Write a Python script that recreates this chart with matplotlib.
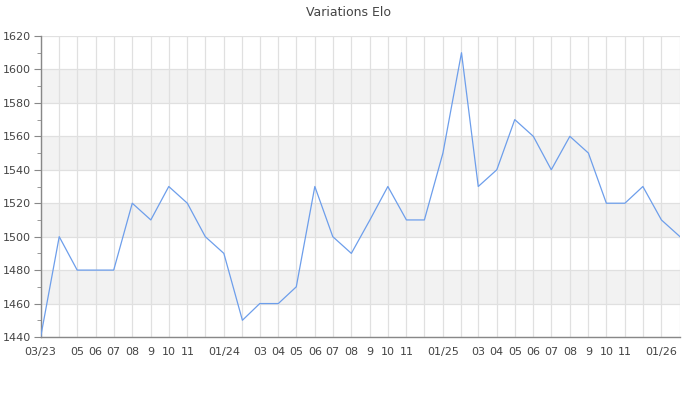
import datetime as dt
import matplotlib
matplotlib.use('Agg')
import matplotlib.pyplot as plt
import matplotlib.dates as mdates

# monthly Elo values, 03/2023 .. 02/2026
months = [dt.date(2023 + (2 + i) // 12, (2 + i) % 12 + 1, 1) for i in range(36)]
elo = [1440, 1500, 1480, 1480, 1480, 1520, 1510, 1530, 1520, 1500,
       1490, 1450, 1460, 1460, 1470, 1530, 1500, 1490, 1510, 1530,
       1510, 1510, 1550, 1610, 1530, 1540, 1570, 1560, 1540, 1560,
       1550, 1520, 1520, 1530, 1510, 1500]
xlabels = ['03/23', '', '05', '06', '07', '08', '9', '10', '11', '',
           '01/24', '', '03', '04', '05', '06', '07', '08', '9', '10', '11', '',
           '01/25', '', '03', '04', '05', '06', '07', '08', '9', '10', '11', '',
           '01/26', '']
yticks = list(range(1440, 1621, 20))

fig = plt.figure(figsize=(7, 4), dpi=100)
ax = fig.add_axes([0.0581, 0.1575, 0.9133, 0.7525])

# alternating horizontal bands
for i, y0 in enumerate(yticks[:-1]):
    if i % 2 == 1:
        ax.axhspan(y0, y0 + 20, color='#f2f2f2', zorder=0, lw=0)

ax.plot(months, elo, color='#6d9eeb', lw=0.9, zorder=3)

ax.set_xlim(months[0], months[-1])
ax.set_ylim(1440, 1620)
ax.set_xticks([mdates.date2num(m) for m in months])
ax.set_xticklabels(xlabels)
ax.set_yticks(yticks)
ax.set_yticks(range(1450, 1620, 20), minor=True)
ax.grid(True, which='major', color='#e0e0e0', lw=0.9, zorder=1)
ax.set_axisbelow(True)

for s in ['top', 'right']:
    ax.spines[s].set_visible(False)
for s in ['left', 'bottom']:
    ax.spines[s].set_color('#888888')
    ax.spines[s].set_linewidth(1.0)

ax.tick_params(axis='x', length=0, pad=7, labelsize=8, labelcolor='#444444')
ax.tick_params(axis='y', which='major', length=5, color='#888888', labelsize=8, labelcolor='#444444', pad=2)
ax.tick_params(axis='y', which='minor', length=3, color='#888888')

fig.text(0.498, 0.97, 'Variations Elo', ha='center', va='center', fontsize=9, color='#444444')

fig.savefig('out.png', dpi=100)
